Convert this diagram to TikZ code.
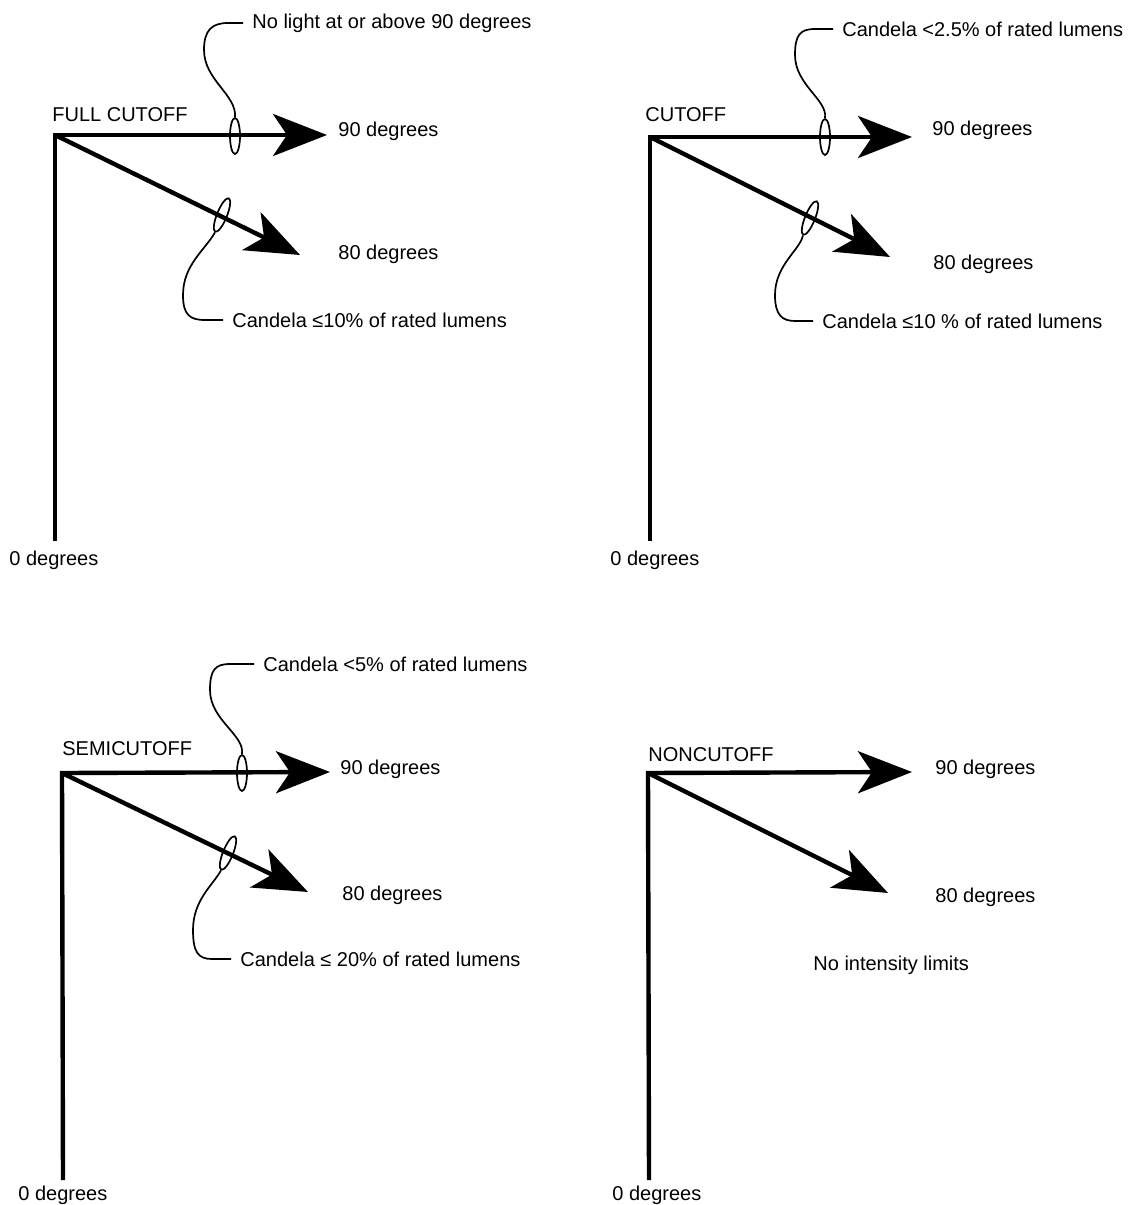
\documentclass[tikz,border=0pt]{standalone}
\usepackage{fontspec}
\setmainfont{Liberation Sans}
\usetikzlibrary{shapes}
\usetikzlibrary{arrows.meta}
\tikzstyle{every picture}+=[font=\fontsize{10}{12}\selectfont]
\tikzstyle{ray}=[line width=2.2pt, line join=miter, -{Stealth[length=27pt, width=21pt, inset=7pt]}]
\tikzstyle{ring}=[draw, ellipse, line width=0.85pt, inner sep=0pt, minimum width=5pt, minimum height=18pt]
\tikzstyle{leader}=[line width=0.85pt]
\tikzstyle{lbl}=[inner sep=0pt, anchor=west]
\tikzstyle{note}=[inner xsep=4.5pt, inner ysep=0pt, anchor=west]

\begin{document}
\begin{tikzpicture}[x=0.5pt, y=-0.5pt]

\useasboundingbox (0,0) rectangle (1133,1205);

%% full cutoff
\coordinate (c1) at (55,135);
\coordinate (b1) at (55,541);
\coordinate (h1) at (327,135);
\coordinate (d1) at (300,255);
\draw[ray] (b1) -- (c1) -- (h1);
\draw[ray] (c1) -- (d1);

\node[lbl] (t1) at (52,115) {FULL CUTOFF};
\node[lbl] (a1) at (338,131) {90 degrees};
\node[lbl] (f1) at (338,254) {80 degrees};
\node[lbl] (z1) at (9,560) {0 degrees};

\node[ring] (e1) at (235,136) {};
\node[ring, rotate=-22] (e2) at (222,215) {};
\node[note] (n1) at (243,23) {No light at or above 90 degrees};
\node[note] (n2) at (223,320) {Candela ≤10\% of rated lumens};

\draw[leader] (e1.north) .. controls (237,95) and (204,80) .. (204,50)
  .. controls (204,30) and (212,23) .. (228,23) -- (n1.west);
\draw[leader] (e2.south) .. controls (205,250) and (183,265) .. (183,295)
  .. controls (183,315) and (190,320) .. (205,320) -- (n2.west);

%% cutoff
\coordinate (c2) at (650,137);
\coordinate (b2) at (650,541);
\coordinate (h2) at (912,137);
\coordinate (d2) at (890,257);
\draw[ray] (b2) -- (c2) -- (h2);
\draw[ray] (c2) -- (d2);

\node[lbl] (t2) at (645,115) {CUTOFF};
\node[lbl] (a2) at (932,130) {90 degrees};
\node[lbl] (f2) at (933,264) {80 degrees};
\node[lbl] (z2) at (610,560) {0 degrees};

\node[ring] (e3) at (825,137) {};
\node[ring, rotate=-22] (e4) at (810,218) {};
\node[note] (n3) at (833,29) {Candela <2.5\% of rated lumens};
\node[note] (n4) at (813,321) {Candela ≤10 \% of rated lumens};

\draw[leader] (e3.north) .. controls (828,100) and (795,85) .. (795,55)
  .. controls (795,35) and (800,29) .. (815,29) -- (n3.west);
\draw[leader] (e4.south) .. controls (800,250) and (775,265) .. (775,295)
  .. controls (775,315) and (782,321) .. (795,321) -- (n4.west);

%% semicutoff
\coordinate (c3) at (62,773);
\coordinate (b3) at (63,1180);
\coordinate (h3) at (330,772);
\coordinate (d3) at (308,892);
\draw[ray] (b3) -- (c3) -- (h3);
\draw[ray] (c3) -- (d3);

\node[lbl] (t3) at (62,749) {SEMICUTOFF};
\node[lbl] (a3) at (340,769) {90 degrees};
\node[lbl] (f3) at (342,895) {80 degrees};
\node[lbl] (z3) at (18,1195) {0 degrees};

\node[ring] (e5) at (242,773) {};
\node[ring, rotate=-22] (e6) at (228,853) {};
\node[note] (n5) at (254,664) {Candela <5\% of rated lumens};
\node[note] (n6) at (231,959) {Candela ≤ 20\% of rated lumens};

\draw[leader] (e5.north) .. controls (245,735) and (210,720) .. (210,690)
  .. controls (210,670) and (215,664) .. (230,664) -- (n5.west);
\draw[leader] (e6.south) .. controls (213,885) and (193,900) .. (193,930)
  .. controls (193,952) and (198,959) .. (212,959) -- (n6.west);

%% noncutoff
\coordinate (c4) at (648,773);
\coordinate (b4) at (649,1180);
\coordinate (h4) at (912,772);
\coordinate (d4) at (888,893);
\draw[ray] (b4) -- (c4) -- (h4);
\draw[ray] (c4) -- (d4);

\node[lbl] (t4) at (648,755) {NONCUTOFF};
\node[lbl] (a4) at (935,769) {90 degrees};
\node[lbl] (f4) at (935,897) {80 degrees};
\node[lbl] (z4) at (612,1195) {0 degrees};
\node[lbl] (n7) at (813,965) {No intensity limits};

\end{tikzpicture}
\end{document}
